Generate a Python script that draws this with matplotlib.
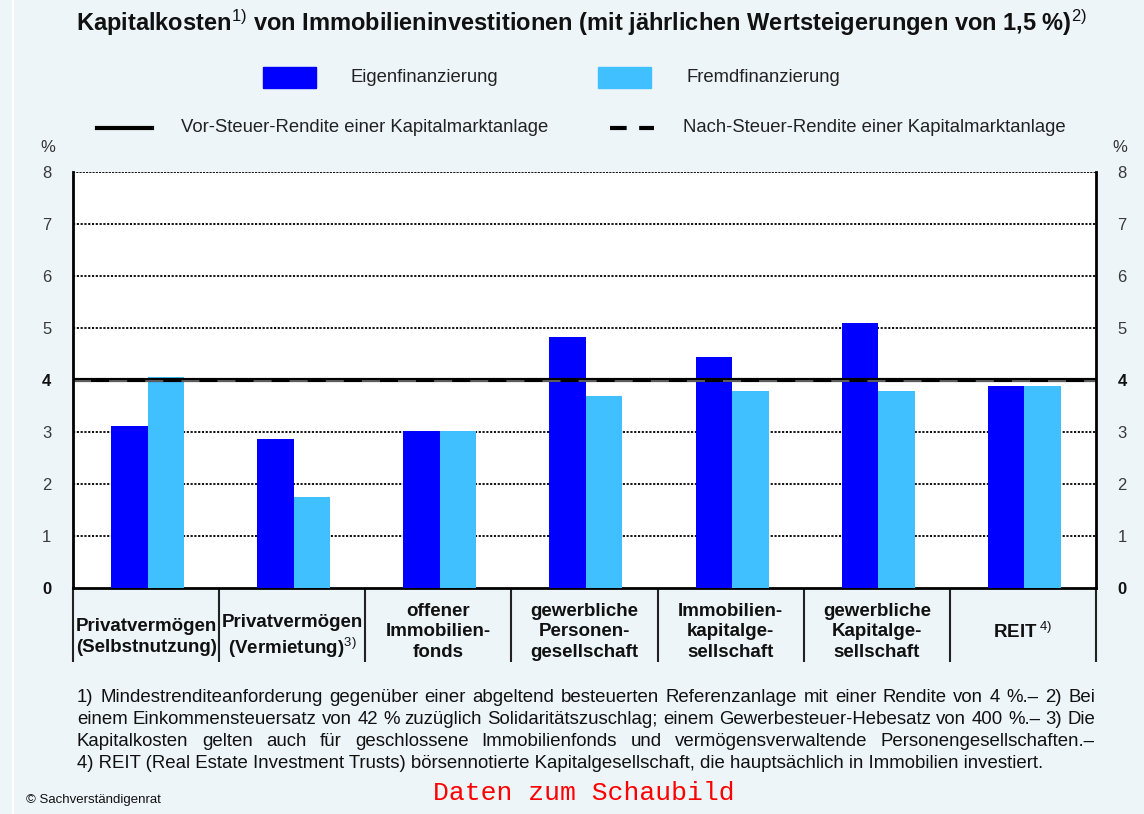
import matplotlib
matplotlib.use("Agg")
import matplotlib.pyplot as plt
import numpy as np
from matplotlib.lines import Line2D
from matplotlib.patches import Rectangle
from matplotlib.transforms import offset_copy

plt.rcParams['font.family'] = ['Liberation Sans', 'DejaVu Sans']
plt.rcParams['mathtext.fontset'] = 'custom'
plt.rcParams['mathtext.rm'] = 'Liberation Sans'
plt.rcParams['mathtext.it'] = 'Liberation Sans'

# Kapitalkosten in %
categories = [
    "Privatvermögen\n(Selbstnutzung)",
    "Privatvermögen\n(Vermietung)$^{3)}$",
    "offener\nImmobilien-\nfonds",
    "gewerbliche\nPersonen-\ngesellschaft",
    "Immobilien-\nkapitalge-\nsellschaft",
    "gewerbliche\nKapitalge-\nsellschaft",
    "REIT$^{\\ 4)}$",
]
eigen = [3.12, 2.87, 3.02, 4.83, 4.44, 5.10, 3.88]
fremd = [4.06, 1.75, 3.02, 3.69, 3.79, 3.79, 3.88]
vor_steuer = 4.0
nach_steuer = 4.0
yticks = [0, 1, 2, 3, 4, 5, 6, 7, 8]

BG = '#EDF5F9'
BLUE = '#0000FF'
LIGHT = '#40C0FF'
TXT = '#111111'
W, H = 1144, 814


def px(x, y):
    return x / W, 1 - y / H


fig = plt.figure(figsize=(W / 100, H / 100), dpi=100, facecolor=BG)
renderer = fig.canvas.get_renderer()

# thin white rule at the left edge
fig.add_artist(Line2D([13 / W, 13 / W], [0, 1], color='white', lw=1.5))

ax = fig.add_axes([73 / W, 1 - 588 / H, 1023 / W, 416 / H])
ax.set_facecolor('white')
x = np.arange(len(categories)) + 0.51
w = 0.25
ax.bar(x - w / 2, eigen, w, color=BLUE, zorder=3)
ax.bar(x + w / 2, fremd, w, color=LIGHT, zorder=3)

ax.set_xlim(0, len(categories))
ax.set_ylim(0, 8)
for v in yticks[1:-1]:
    ax.axhline(v, color='black', lw=1.3, ls=(0, (1.2, 0.9)), zorder=1)
ax.axhline(8, color='black', lw=1.3, ls=(0, (1.2, 0.6)), zorder=1)

ax.axhline(vor_steuer, color='black', lw=3, zorder=4)
ax.plot([0, 1], [nach_steuer, nach_steuer], color='#666666', lw=1.3, dashes=(10, 10),
        zorder=5, transform=offset_copy(ax.get_yaxis_transform(), fig=fig, y=-1, units='dots'))

ax.spines['top'].set_visible(False)
for side in ['left', 'right', 'bottom']:
    ax.spines[side].set_linewidth(2)
ax.spines['left'].set_zorder(6)
ax.spines['right'].set_zorder(6)
ax.spines['bottom'].set_zorder(2)
ax.set_xticks([])

# same scale on both sides, 0 and 4 in bold
ax_r = ax.twinx()
ax_r.set_ylim(ax.get_ylim())
for a in (ax, ax_r):
    a.set_yticks(yticks)
    a.set_yticklabels([str(v) for v in yticks])
    a.tick_params(axis='y', length=0, pad=15.5, labelsize=12)
    for v, lab in zip(yticks, a.get_yticklabels()):
        lab.set_fontweight('bold' if v in (0, 4) else 'normal')
        lab.set_color('#111111' if v in (0, 4) else '#3a3a3a')
ax_r.spines[:].set_visible(False)

fig.text(*px(48, 147), '%', ha='center', va='center', fontsize=12, color='#333333')
fig.text(*px(1120, 147), '%', ha='center', va='center', fontsize=12, color='#333333')

# table of category cells below the axis
ax.vlines(np.arange(len(categories) + 1), -74 / 416, 0, color='#222222', lw=1.5,
          transform=ax.get_xaxis_transform(), clip_on=False)
for xi, name in zip(x - 0.01, categories):
    yc = 637 if name.count('\n') == 1 else 632
    ax.text(xi, (588 - yc) / 416, name, transform=ax.get_xaxis_transform(), ha='center',
            va='center', fontsize=13.5, fontweight='bold', linespacing=1.3, color=TXT)

# title
fig.text(*px(581, 23), "Kapitalkosten$^{1)}$ von Immobilieninvestitionen "
         "(mit jährlichen Wertsteigerungen von 1,5 %)$^{2)}$",
         ha='center', va='center', fontsize=17, fontweight='bold', color=TXT)

# legend
fig.add_artist(Rectangle(px(263, 88), 53 / W, 21 / H, color=BLUE))
fig.text(*px(350, 77), 'Eigenfinanzierung', va='center', fontsize=13.3, color='#222222')
fig.add_artist(Rectangle(px(598, 88), 53 / W, 21 / H, color=LIGHT))
fig.text(*px(687, 77), 'Fremdfinanzierung', va='center', fontsize=13.3, color='#222222')
fig.add_artist(Line2D([97 / W, 152 / W], [1 - 128 / H] * 2, color='black', lw=3))
fig.text(*px(181, 128), 'Vor-Steuer-Rendite einer Kapitalmarktanlage', va='center',
         fontsize=13.3, color='#222222')
fig.add_artist(Line2D([610 / W, 654 / W], [1 - 128 / H] * 2, color='black', lw=3,
                      dashes=(4, 3)))
fig.text(*px(683, 128), 'Nach-Steuer-Rendite einer Kapitalmarktanlage', va='center',
         fontsize=13.3, color='#222222')

# footnotes, justified between two margins
notes = [
    "1) Mindestrenditeanforderung gegenüber einer abgeltend besteuerten Referenzanlage mit einer Rendite von 4 %.– 2) Bei",
    "einem Einkommensteuersatz von 42 % zuzüglich Solidaritätszuschlag; einem Gewerbesteuer-Hebesatz von 400 %.– 3) Die",
    "Kapitalkosten gelten auch für geschlossene Immobilienfonds und vermögensverwaltende Personengesellschaften.–",
    "4) REIT (Real Estate Investment Trusts) börsennotierte Kapitalgesellschaft, die hauptsächlich in Immobilien investiert.",
]
note_size = 13.4
x0, x1 = 77, 1095
for k, line in enumerate(notes):
    y = 697 + k * 22.3
    if k == len(notes) - 1:
        fig.text(*px(x0, y), line, va='center', fontsize=note_size, color=TXT)
        continue
    words = line.split(' ')
    texts = [fig.text(0, 1 - y / H, wd, va='center', fontsize=note_size, color=TXT)
             for wd in words]
    widths = [t.get_window_extent(renderer).width for t in texts]
    gap = (x1 - x0 - sum(widths)) / (len(words) - 1)
    pos = x0
    for t, wd in zip(texts, widths):
        t.set_x(pos / W)
        pos += wd + gap

fig.text(*px(26, 800), '© Sachverständigenrat', va='center', fontsize=9.5, color=TXT)
fig.text(*px(584, 793), 'Daten zum Schaubild', ha='center', va='center',
         fontsize=19, family='Liberation Mono', color='#FF0000')

fig.savefig('out.png', dpi=100, facecolor=BG)
